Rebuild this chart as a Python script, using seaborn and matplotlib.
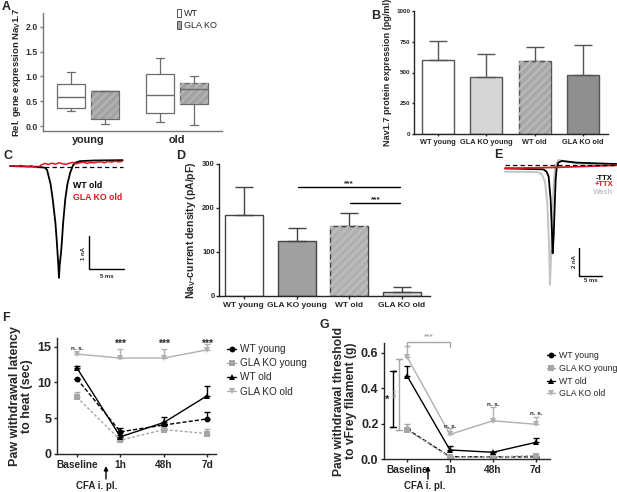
import numpy as np
import matplotlib.pyplot as plt
import seaborn as sns
from matplotlib.patches import Patch, PathPatch, FancyArrowPatch
from matplotlib.lines import Line2D

# ---------------- data ----------------
# A: relative gene expression Nav1.7 (box stats), order WT young, KO young, WT old, KO old
a_groups = ['young', 'old']
a_geno = ['WT', 'GLA KO']
a_whislo = [0.30, 0.04, 0.08, 0.03]
a_q1 = [0.36, 0.14, 0.26, 0.44]
a_med = [0.58, 0.70, 0.62, 0.75]
a_q3 = [0.85, 0.70, 1.05, 0.87]
a_whishi = [1.08, 0.70, 1.38, 1.00]
a_yticks = [0.0, 0.5, 1.0, 1.5, 2.0]

# B: Nav1.7 protein (pg/ml)
b_labels = ['WT young', 'GLA KO young', 'WT old', 'GLA KO old']
b_mean = [605, 460, 590, 480]
b_top = [760, 650, 710, 725]
b_yticks = [0, 250, 500, 750, 1000]

# C: current traces (ms, nA)
c_wt_t = [0.0, 3.9, 5.0, 5.3, 5.8, 6.1, 6.5, 6.7, 6.9, 7.0, 7.1, 7.3, 7.4, 7.6, 7.9, 8.2, 8.6, 9.0, 9.3, 10.0, 12.0, 16.1]
c_wt_i = [0.0, -0.02, -0.05, -0.12, -0.55, -1.0, -1.75, -2.33, -3.0, -3.39, -3.0, -2.6, -2.33, -1.7, -1.0, -0.55, -0.2, 0.02, 0.1, 0.15, 0.17, 0.18]
c_ko_t = [0.0, 0.5, 1.0, 1.5, 2.0, 2.5, 3.0, 3.5, 4.0, 4.5, 5.0, 5.5, 6.0, 6.5, 7.0, 7.5, 8.0,
          8.5, 9.0, 9.5, 10.0, 10.5, 11.0, 11.5, 12.0, 12.5, 13.0, 13.5, 14.0, 14.5, 15.0, 15.5, 16.0]
c_ko_i = [0.00, 0.01, -0.01, 0.02, 0.00, -0.02, 0.01, -0.03, -0.04, 0.04, 0.08, 0.05, 0.09, 0.06, 0.10, 0.07,
          0.05, 0.09, 0.11, 0.07, 0.10, 0.12, 0.08, 0.11, 0.10, 0.12, 0.13, 0.10, 0.14, 0.12, 0.15, 0.13, 0.14]
c_labels = ['WT old', 'GLA KO old']

# D: Nav current density (pA/pF)
d_labels = ['WT young', 'GLA KO young', 'WT old', 'GLA KO old']
d_mean = [185, 124, 160, 10]
d_top = [248, 155, 188, 21]
d_yticks = [0, 100, 200, 300]

# E: TTX traces (ms, nA)
e_ctrl_t = [0.0, 8.33, 9.06, 9.49, 9.93, 10.22, 10.36, 10.58, 10.80, 11.01, 11.23, 11.59, 12.32, 15.58, 24.28]
e_ctrl_i = [-0.24, -0.31, -0.48, -0.83, -2.5, -4.88, -6.31, -5.12, -2.98, -1.07, -0.24, 0.17, 0.29, 0.17, 0.07]
e_wash_t = [0.0, 6.88, 7.97, 8.70, 9.20, 9.57, 9.78, 10.07, 10.36, 10.65, 11.01, 11.59, 12.68, 15.58, 24.28]
e_wash_i = [-0.48, -0.50, -0.64, -1.19, -2.74, -5.60, -8.57, -6.07, -2.98, -1.07, 0.0, 0.36, 0.29, 0.12, 0.0]
e_ttx_t = [0.0, 11.23, 24.28]
e_ttx_i = [-0.24, -0.17, -0.02]
e_labels = ['-TTX', '+TTX', 'Wash']

# F: paw withdrawal latency to heat (sec)
time_labels = ['Baseline', '1h', '48h', '7d']
series_names = ['WT young', 'GLA KO young', 'WT old', 'GLA KO old']
f_wt_young = [10.5, 3.1, 4.05, 4.9]
f_wt_young_top = [10.5, 3.6, 4.05, 5.85]
f_ko_young = [7.9, 1.95, 3.4, 2.85]
f_ko_young_top = [8.7, 1.95, 3.6, 3.5]
f_wt_old = [12.0, 2.4, 4.4, 8.15]
f_wt_old_top = [12.35, 2.6, 5.1, 9.5]
f_ko_old = [13.95, 13.4, 13.4, 14.55]
f_ko_old_top = [13.95, 14.7, 14.7, 15.3]
f_yticks = [0, 5, 10, 15]

# G: paw withdrawal threshold to vFrey filament (g)
g_wt_young = [0.169, 0.013, 0.012, 0.012]
g_wt_young_top = [0.169, 0.013, 0.012, 0.012]
g_ko_young = [0.165, 0.010, 0.012, 0.019]
g_ko_young_top = [0.200, 0.010, 0.012, 0.019]
g_wt_old = [0.470, 0.051, 0.038, 0.094]
g_wt_old_top = [0.525, 0.073, 0.038, 0.120]
g_ko_old = [0.577, 0.139, 0.216, 0.196]
g_ko_old_top = [0.638, 0.173, 0.292, 0.239]
g_yticks = [0.0, 0.2, 0.4, 0.6]

# ---------------- style ----------------
sns.set_style('ticks')
plt.rcParams['font.family'] = ['Liberation Sans', 'DejaVu Sans']
plt.rcParams['font.weight'] = 'bold'
plt.rcParams['axes.labelweight'] = 'bold'
plt.rcParams['mathtext.fontset'] = 'custom'
plt.rcParams['mathtext.rm'] = 'Liberation Sans:bold'
plt.rcParams['mathtext.bf'] = 'Liberation Sans:bold'
plt.rcParams['mathtext.it'] = 'Liberation Sans:bold:italic'
plt.rcParams['hatch.linewidth'] = 1.6
plt.rcParams['axes.linewidth'] = 1.0
plt.rcParams['xtick.major.width'] = 1.0
plt.rcParams['ytick.major.width'] = 1.0

W, H = 617, 492
fig = plt.figure(figsize=(W / 100, H / 100), dpi=100)


def box(l, t, r, b):
    return fig.add_axes([l / W, 1 - b / H, (r - l) / W, (b - t) / H])


def ftext(x, y, s, **kw):
    fig.text(x / W, 1 - y / H, s, **kw)


def hatch_over(ax, patch, color):
    hp = PathPatch(patch.get_path(), transform=patch.get_transform(), fill=False,
                   hatch='////', edgecolor=color, linewidth=0, zorder=patch.get_zorder() + 0.01)
    ax.add_patch(hp)


def cfa_arrow(x):
    fig.add_artist(FancyArrowPatch(
        (x / W, 1 - 479 / H), (x / W, 1 - 466 / H), transform=fig.transFigure,
        arrowstyle='-|>', mutation_scale=6, color='black', lw=1.0, shrinkA=0, shrinkB=0))


# ---------------- A ----------------
ax = box(43, 13, 222, 131)
stats = [dict(whislo=a_whislo[i], q1=a_q1[i], med=a_med[i], q3=a_q3[i], whishi=a_whishi[i], fliers=[])
         for i in range(4)]
off = 0.19
pos = [0 - off, 0 + off, 1 - off, 1 + off]
edge = '#6b6b6b'
bp = ax.bxp(stats, positions=pos, widths=0.31, capwidths=0.09, patch_artist=True, showfliers=False,
            manage_ticks=False,
            boxprops=dict(edgecolor=edge, linewidth=0.9),
            medianprops=dict(color=edge, linewidth=1.0, zorder=4),
            whiskerprops=dict(color=edge, linewidth=0.9),
            capprops=dict(color=edge, linewidth=0.9))
a_colors = ['white', '#a3a3a3', 'white', '#a3a3a3']
for i, patch in enumerate(bp['boxes']):
    patch.set_facecolor(a_colors[i])
    if i % 2 == 1:
        hatch_over(ax, patch, '#b3b3b3')
ax.set_xlim(-0.5, 1.5)
ax.set_ylim(-0.1, 2.28)
ax.set_xticks(range(len(a_groups)))
ax.set_xticklabels(a_groups, fontsize=7.8)
ax.tick_params(axis='x', length=0, pad=3)
ax.set_yticks(a_yticks)
ax.set_yticklabels([f'{v:.1f}' for v in a_yticks], fontsize=6.3, color='#333333')
ax.tick_params(axis='y', length=2, color='#777777', pad=1.5)
ax.set_ylabel(r'Rel. gene expression Na$_\mathbf{V}$1.7', fontsize=6.8, labelpad=2)
for s in ['left', 'bottom']:
    ax.spines[s].set_color('#777777')
sns.despine(ax=ax)
handles = [Patch(facecolor='white', edgecolor='#555555', lw=0.7),
           Patch(facecolor='#a3a3a3', edgecolor='#555555', lw=0.7)]
fig.legend(handles=handles, labels=a_geno, loc='upper left', bbox_to_anchor=(172 / W, 1 - 4 / H),
           frameon=False, handlelength=0.55, handleheight=1.1, handletextpad=0.25,
           labelspacing=0.3, borderpad=0, prop={'size': 6.5, 'weight': 'normal'})

# ---------------- B ----------------
ax = box(414, 11, 608, 134)
b_colors = ['#ffffff', '#d6d6d6', '#a9a9a9', '#8f8f8f']
sns.barplot(x=b_labels, y=b_mean, hue=b_labels, palette=b_colors, legend=False, width=0.66,
            saturation=1, edgecolor='#555555', linewidth=1.0, errorbar=None, ax=ax)
hatch_over(ax, ax.patches[2], '#b9b9b9')
ax.errorbar(range(4), b_mean, yerr=[np.zeros(4), np.array(b_top) - np.array(b_mean)], fmt='none',
            ecolor='#555555', elinewidth=1.0, capsize=6.5, capthick=1.0, zorder=1)
ax.set_xlim(-0.5, 3.52)
ax.set_ylim(0, 1000)
ax.set_yticks(b_yticks)
ax.set_yticklabels([str(v) for v in b_yticks], fontsize=4.5)
ax.tick_params(axis='y', length=1.5, pad=1)
ax.tick_params(axis='x', length=1.5, labelsize=5.3, pad=2)
ax.set_ylabel('Nav1.7 protein expression (pg/ml)', fontsize=6.6, labelpad=3)
ax.yaxis.set_label_coords(-0.115, 0.5)
sns.despine(ax=ax)

# ---------------- C ----------------
ax = box(0, 145, 135, 290)
ax.plot(c_wt_t, c_wt_i, color='black', lw=1.3, solid_joinstyle='round')
ax.plot(c_ko_t, c_ko_i, color='#e3141b', lw=1.1)
ax.plot([c_wt_t[1], c_wt_t[-1]], [-0.03, -0.03], color='black', lw=0.9, ls=(0, (3.5, 2.5)))
sb_t, sb_i = 11.29, -3.12
ax.plot([sb_t, sb_t, sb_t + 5], [sb_i + 1, sb_i, sb_i], color='black', lw=1.0)
ax.set_xlim(-1.43, 17.86)
ax.set_ylim(-3.76, 0.64)
ax.axis('off')
ftext(73, 185, c_labels[0], fontsize=6.3, color='black', va='center')
ftext(73, 198, c_labels[1], fontsize=6.3, color='#e3141b', va='center')
ftext(84, 253, '1 nA', fontsize=4.3, rotation=90, ha='center', va='center')
ftext(107, 277, '5 ms', fontsize=4.3, ha='center', va='center')

# ---------------- D ----------------
ax = box(219, 164, 430, 296)
d_colors = ['#ffffff', '#a0a0a0', '#b0b0b0', '#d3d3d3']
sns.barplot(x=d_labels, y=d_mean, hue=d_labels, palette=d_colors, legend=False, width=0.72,
            saturation=1, edgecolor='#444444', linewidth=1.0, errorbar=None, ax=ax)
hatch_over(ax, ax.patches[2], '#bdbdbd')
ax.errorbar(range(4), d_mean, yerr=[np.zeros(4), np.array(d_top) - np.array(d_mean)], fmt='none',
            ecolor='#444444', elinewidth=1.0, capsize=6.5, capthick=1.0, zorder=1)
ax.plot([1.02, 2.96], [248, 248], color='black', lw=1.0)
ax.plot([2.01, 2.96], [211, 211], color='black', lw=1.0)
ax.text(2.0, 256, '***', ha='center', va='center', fontsize=6)
ax.text(2.5, 218, '***', ha='center', va='center', fontsize=6)
ax.set_xlim(-0.47, 3.53)
ax.set_ylim(0, 300)
ax.set_yticks(d_yticks)
ax.set_yticklabels([str(v) for v in d_yticks], fontsize=5.5)
ax.tick_params(axis='y', length=2, pad=1)
ax.tick_params(axis='x', length=2, labelsize=6, pad=2)
ax.set_ylabel(r'Na$_\mathbf{V}$-current density (pA/pF)', fontsize=7.5, labelpad=3)
sns.despine(ax=ax)

# ---------------- E ----------------
ax = box(495, 145, 617, 295)
ax.plot([e_ctrl_t[0], e_ctrl_t[-1]], [0, 0], color='black', lw=0.9, ls=(0, (3.5, 2.5)), zorder=5)
ax.plot(e_wash_t, e_wash_i, color='#c4c4c4', lw=1.4)
ax.plot(e_ctrl_t, e_ctrl_i, color='black', lw=1.3)
ax.plot(e_ttx_t, e_ttx_i, color='#d7191c', lw=1.3)
sb_t, sb_i = 16.1, -7.93
ax.plot([sb_t, sb_t, sb_t + 5], [sb_i + 2, sb_i, sb_i], color='black', lw=1.0)
ax.set_xlim(-2.17, 24.35)
ax.set_ylim(-9.29, 1.43)
ax.axis('off')
ftext(613, 178, e_labels[0], fontsize=5.5, color='black', ha='right', va='center')
ftext(613, 185, e_labels[1], fontsize=5.5, color='#d7191c', ha='right', va='center')
ftext(613, 192, e_labels[2], fontsize=5.5, color='#c4c4c4', ha='right', va='center')
ftext(574, 261, '2 nA', fontsize=4.3, rotation=90, ha='center', va='center')
ftext(591, 280, '5 ms', fontsize=4.3, ha='center', va='center')

# ---------------- F & G shared styles ----------------
styles = [
    dict(color='black', marker='o', ls=(0, (3, 1.5)), ms=4.2),
    dict(color='#a6a6a6', marker='s', ls=(0, (2, 1.5)), ms=4.0),
    dict(color='black', marker='^', ls='-', ms=4.2),
    dict(color='#b0b0b0', marker='v', ls='-', ms=4.2),
]
xpos = np.arange(len(time_labels))


def draw_series(ax, vals, tops, capsize):
    for v, t, st in zip(vals, tops, styles):
        sns.lineplot(x=xpos, y=v, ax=ax, color=st['color'], marker=st['marker'], linestyle=st['ls'],
                     markersize=st['ms'], markeredgewidth=0, lw=1.0)
        ax.errorbar(xpos, v, yerr=[np.zeros(len(v)), np.array(t) - np.array(v)], fmt='none',
                    ecolor=st['color'], elinewidth=1.0, capsize=capsize, capthick=1.0)


def series_legend(x, y, size):
    hs = [Line2D([], [], color=st['color'], marker=st['marker'], ls='-', ms=st['ms'], lw=1.0,
                 markeredgewidth=0) for st in styles]
    fig.legend(handles=hs, labels=series_names, loc='upper left', bbox_to_anchor=(x / W, 1 - y / H),
               frameon=False, handlelength=0.9, handletextpad=0.45, borderpad=0,
               labelspacing=0.42, prop={'size': size, 'weight': 'normal'})


# ---------------- F ----------------
ax = box(57, 338, 216, 454)
draw_series(ax, [f_wt_young, f_ko_young, f_wt_old, f_ko_old],
            [f_wt_young_top, f_ko_young_top, f_wt_old_top, f_ko_old_top], 2.3)
ax.text(0, 14.7, 'n. s.', ha='center', va='center', fontsize=4.5)
for i in range(1, 4):
    ax.text(i, 15.35, '***', ha='center', va='center', fontsize=7.5)
ax.set_xlim(-0.46, 3.2)
ax.set_ylim(0, 16.2)
ax.set_xticks(xpos)
ax.set_xticklabels(time_labels, fontsize=7.3)
ax.set_yticks(f_yticks)
ax.set_yticklabels([str(v) for v in f_yticks], fontsize=9)
ax.tick_params(axis='both', length=2.5, pad=1.5)
ax.set_ylabel('Paw withdrawal latency\nto heat (sec)', fontsize=9, labelpad=3, linespacing=1.0)
sns.despine(ax=ax)
series_legend(222, 339, 7.2)
cfa_arrow(106)
ftext(97, 486, 'CFA i. pl.', fontsize=7, ha='center', va='center')

# ---------------- G ----------------
ax = box(384, 343, 550, 459)
draw_series(ax, [g_wt_young, g_ko_young, g_wt_old, g_ko_old],
            [g_wt_young_top, g_ko_young_top, g_wt_old_top, g_ko_old_top], 2.3)
gray = '#a8a8a8'
# horizontal bracket baseline -> 1h
ax.plot([0, 0, 1, 1], [0.632, 0.658, 0.658, 0.632], color=gray, lw=1.0, clip_on=False)
ax.text(0.5, 0.69, '***', ha='center', va='center', fontsize=6, color=gray)
# vertical brackets at baseline
ax.plot([-0.4, -0.25, -0.326, -0.326, -0.4, -0.25], [0.498, 0.498, 0.498, 0.179, 0.179, 0.179],
        color='black', lw=1.0)
ax.text(-0.47, 0.335, '*', ha='center', va='center', fontsize=8)
ax.plot([-0.26, -0.11, -0.186, -0.186, -0.26, -0.11], [0.562, 0.562, 0.562, 0.164, 0.164, 0.164],
        color=gray, lw=1.0)
ax.text(-0.245, 0.37, '***', ha='center', va='center', fontsize=6, color=gray, rotation=90)
for xi, yi in zip([1, 2, 3], [0.186, 0.309, 0.258]):
    ax.text(xi, yi, 'n. s.', ha='center', va='center', fontsize=4.5)
ax.set_xlim(-0.535, 3.33)
ax.set_ylim(0, 0.655)
ax.set_xticks(xpos)
ax.set_xticklabels(time_labels, fontsize=7.3)
ax.set_yticks(g_yticks)
ax.set_yticklabels([f'{v:.1f}' for v in g_yticks], fontsize=9)
ax.tick_params(axis='both', length=2.5, pad=1.5)
ax.set_ylabel('Paw withdrawal threshold\nto vFrey filament (g)', fontsize=8.7, labelpad=3, linespacing=1.0)
sns.despine(ax=ax)
series_legend(543, 347, 6.3)
cfa_arrow(428)
ftext(425, 486, 'CFA i. pl.', fontsize=7, ha='center', va='center')

# ---------------- panel letters ----------------
for letter, x, y in [('A', 2, 7), ('B', 371, 16), ('C', 3, 156), ('D', 176, 156), ('E', 494, 155),
                     ('F', 2, 318), ('G', 319, 325)]:
    ftext(x, y, letter, fontsize=9, va='center')

fig.savefig('out.png', dpi=100)
